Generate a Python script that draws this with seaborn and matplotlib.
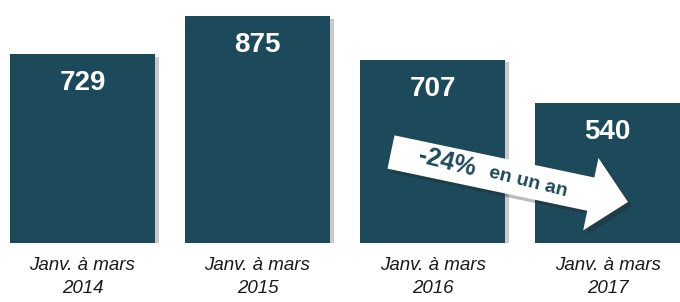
import numpy as np
import pandas as pd
import matplotlib
matplotlib.use("Agg")
import matplotlib.pyplot as plt
import matplotlib.patheffects as pe
from matplotlib.patches import Polygon
import seaborn as sns

# ---- data ----
periods = ["Janv. à mars\n2014", "Janv. à mars\n2015", "Janv. à mars\n2016", "Janv. à mars\n2017"]
values = [729, 875, 707, 540]
change_label = "-24%"
change_suffix = "en un an"

BAR_COLOR = "#1d4a5a"
W, H = 680, 302

sns.set_theme(style="white")
plt.rcParams['font.family'] = ['Liberation Sans', 'DejaVu Sans']

df = pd.DataFrame({"period": periods, "value": values})

fig = plt.figure(figsize=(W / 100, H / 100), dpi=100)
ax = fig.add_axes([0, 59 / H, 1, 1 - 59 / H])

sns.barplot(data=df, x="period", y="value", color=BAR_COLOR, saturation=1,
            width=0.829, ax=ax)
for p in ax.patches:
    p.set_edgecolor("none")
    p.set_path_effects([pe.SimplePatchShadow(offset=(3, -2), shadow_rgbFace="#888888", alpha=0.45),
                        pe.Normal()])

ax.set_xlim(-0.471, 3.414)
ax.set_ylim(0, 937)
ax.set_xlabel("")
ax.set_ylabel("")
ax.set_yticks([])
for s in ax.spines.values():
    s.set_visible(False)
ax.tick_params(axis="x", length=0, pad=10)
for lbl in ax.get_xticklabels():
    lbl.set_fontstyle("italic")
    lbl.set_fontsize(13.5)
    lbl.set_color("#1a1a1a")
    lbl.set_linespacing(1.45)

# value labels inside bars
for i, v in enumerate(values):
    ax.annotate(f"{v}", xy=(i, v), xytext=(0, -29), textcoords="offset pixels",
                ha="center", va="center", color="white", fontsize=20, fontweight="bold")

# arrow annotation in figure pixel coordinates
tail = np.array([391.0, 152.0])
tip = np.array([628.0, 202.0])
d = tip - tail
L = np.hypot(*d)
u = d / L
n = np.array([-u[1], u[0]])
bw, hw, hl = 17.0, 37.0, 38.0
pts_local = [(0, -bw), (L - hl, -bw), (L - hl, -hw), (L, 0), (L - hl, hw), (L - hl, bw), (0, bw)]
pts = [tail + a * u + b * n for a, b in pts_local]
pts_fig = [(x / W, 1 - y / H) for x, y in pts]
arrow = Polygon(pts_fig, closed=True, transform=fig.transFigure, facecolor="white",
                edgecolor="none", zorder=5)
arrow.set_path_effects([pe.SimplePatchShadow(offset=(3, -3), shadow_rgbFace="#222222", alpha=0.3),
                        pe.Normal()])
fig.patches.append(arrow)

ang = -np.degrees(np.arctan2(d[1], d[0])) - 2
fig.text(447 / W, 1 - 162 / H, change_label, rotation=ang, rotation_mode="anchor",
         ha="center", va="center", color=BAR_COLOR, fontsize=18, fontweight="bold", zorder=6)
fig.text(528 / W, 1 - 182 / H, change_suffix, rotation=ang, rotation_mode="anchor",
         ha="center", va="center", color=BAR_COLOR, fontsize=14, fontweight="bold", zorder=6)

fig.savefig("out.png", dpi=100)
